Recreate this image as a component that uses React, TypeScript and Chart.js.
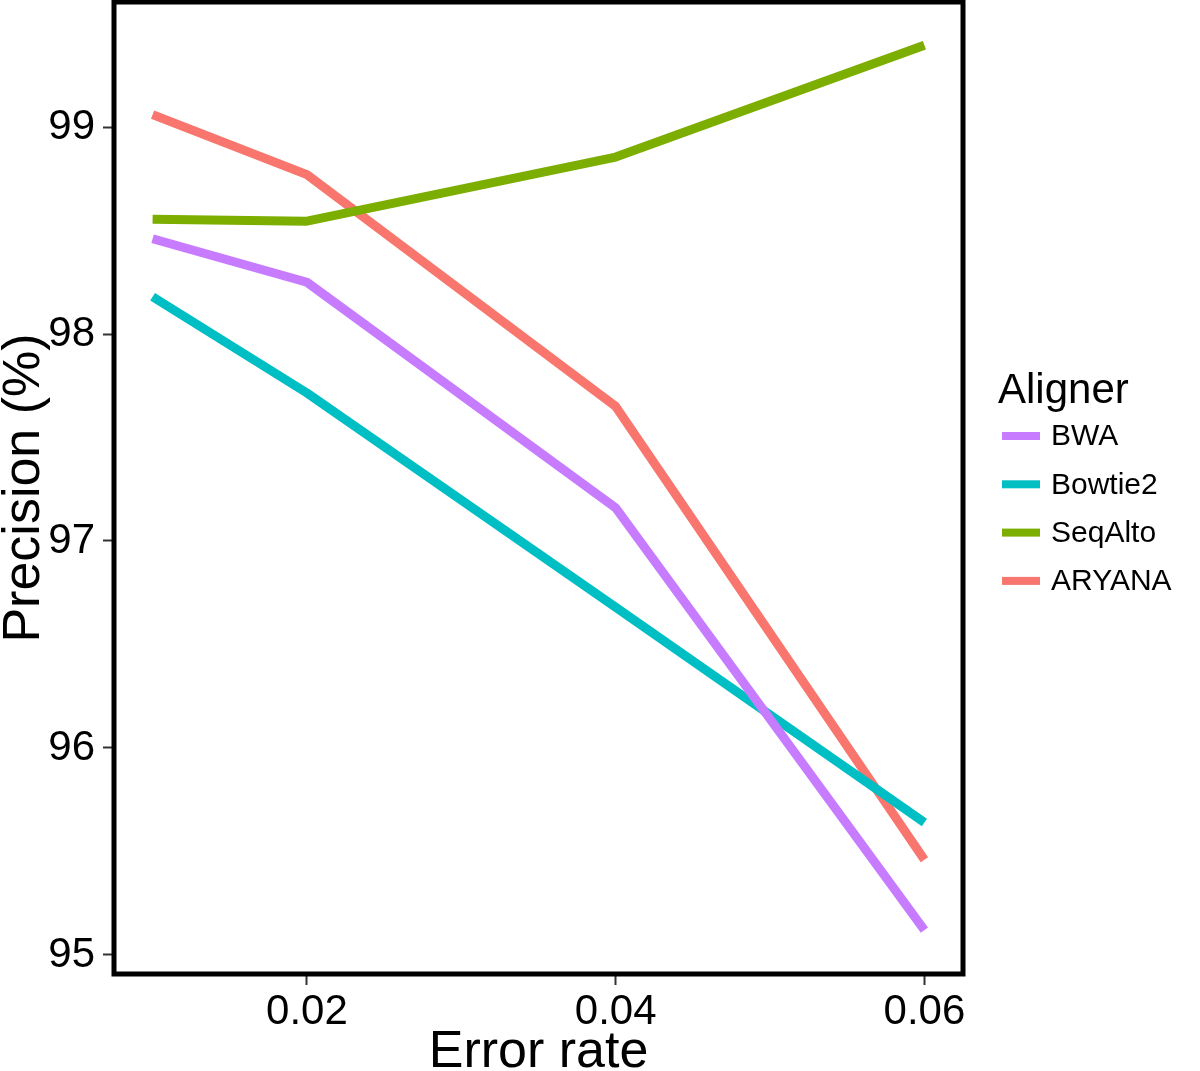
import React, { useEffect, useRef } from "react";
import { Chart, registerables } from "chart.js";

Chart.register(...registerables);

const errorRates = [0.01, 0.02, 0.04, 0.06];
const bwa = [98.46, 98.25, 97.16, 95.12];
const bowtie2 = [98.18, 97.715, 96.68, 95.64];
const seqAlto = [98.555, 98.545, 98.855, 99.395];
const aryana = [99.06, 98.77, 97.65, 95.46];

const seriesNames = ["BWA", "Bowtie2", "SeqAlto", "ARYANA"];
const seriesColors = ["#C77CFF", "#00BFC4", "#7CAE00", "#F8766D"];
const xTicks = [0.02, 0.04, 0.06];
const yTicks = [95, 96, 97, 98, 99];

const FONT = "'Liberation Sans', Arial, Helvetica, sans-serif";

export default function App() {
  const ref = useRef<HTMLCanvasElement | null>(null);

  useEffect(() => {
    const canvas = ref.current;
    if (!canvas) return;
    const seriesValues = [bwa, bowtie2, seqAlto, aryana];

    const boxPlugin = {
      id: "boxAndLegend",
      afterDraw(chart: any) {
        const ctx = chart.ctx;
        const a = chart.chartArea;
        ctx.save();
        ctx.strokeStyle = "#000";
        ctx.lineWidth = 5;
        ctx.strokeRect(a.left, a.top, a.right - a.left, a.bottom - a.top);
        // legend
        ctx.fillStyle = "#000";
        ctx.textBaseline = "alphabetic";
        ctx.textAlign = "left";
        ctx.font = `42px ${FONT}`;
        ctx.fillText("Aligner", 998, 403);
        ctx.font = `30px ${FONT}`;
        ctx.textBaseline = "middle";
        seriesNames.forEach((name, i) => {
          const cy = 436 + i * 48.3;
          ctx.fillStyle = seriesColors[i];
          ctx.fillRect(1002, cy - 4, 38, 8);
          ctx.fillStyle = "#000";
          ctx.fillText(name, 1051, cy + 1);
        });
        ctx.restore();
      },
    };

    const chart = new Chart(canvas, {
      type: "line",
      data: {
        datasets: seriesNames.map((name, i) => ({
          label: name,
          data: errorRates.map((x, j) => ({ x, y: seriesValues[i][j] })),
          borderColor: seriesColors[i],
          backgroundColor: seriesColors[i],
          borderWidth: 9,
          pointRadius: 0,
          tension: 0,
          fill: false,
          borderCapStyle: "butt",
          borderJoinStyle: "round",
        })),
      },
      options: {
        responsive: false,
        animation: false,
        layout: { padding: { top: 2, right: 237, left: 0, bottom: 0 } },
        plugins: { legend: { display: false }, tooltip: { enabled: false } },
        scales: {
          x: {
            type: "linear",
            min: 0.0075,
            max: 0.0625,
            afterBuildTicks: (s: any) => {
              s.ticks = xTicks.map((v) => ({ value: v }));
            },
            afterFit: (s: any) => {
              s.height = 97;
              s.paddingLeft = 0;
              s.paddingRight = 0;
              s.paddingTop = 0;
              s.paddingBottom = 0;
            },
            grid: {
              drawOnChartArea: false,
              drawTicks: true,
              tickLength: 11,
              tickWidth: 2,
              tickColor: "#333",
            },
            border: { display: false },
            ticks: {
              color: "#000",
              font: { family: FONT, size: 42 },
              padding: 2,
              maxRotation: 0,
              callback: (v: any) => Number(v).toFixed(2),
            },
            title: {
              display: true,
              text: "Error rate",
              color: "#000",
              font: { family: FONT, size: 52 },
              padding: { top: 0, bottom: -13 },
            },
          },
          y: {
            type: "linear",
            min: 94.908,
            max: 99.604,
            afterBuildTicks: (s: any) => {
              s.ticks = yTicks.map((v) => ({ value: v }));
            },
            afterFit: (s: any) => {
              s.width = 114;
              s.paddingLeft = 0;
              s.paddingRight = 0;
              s.paddingTop = 0;
              s.paddingBottom = 0;
            },
            grid: {
              drawOnChartArea: false,
              drawTicks: true,
              tickLength: 11,
              tickWidth: 2,
              tickColor: "#333",
            },
            border: { display: false },
            ticks: {
              color: "#000",
              font: { family: FONT, size: 42 },
              padding: 8,
              callback: (v: any) => String(v),
            },
            title: {
              display: true,
              text: "Precision (%)",
              color: "#000",
              font: { family: FONT, size: 52 },
              padding: { top: -7, bottom: 0 },
            },
          },
        },
      },
      plugins: [boxPlugin],
    } as any);

    return () => chart.destroy();
  }, []);

  return (
    <div style={{ position: "absolute", left: 0, top: 0, width: 1200, height: 1071, background: "#fff" }}>
      <canvas ref={ref} width={1200} height={1071} style={{ display: "block" }} />
    </div>
  );
}
